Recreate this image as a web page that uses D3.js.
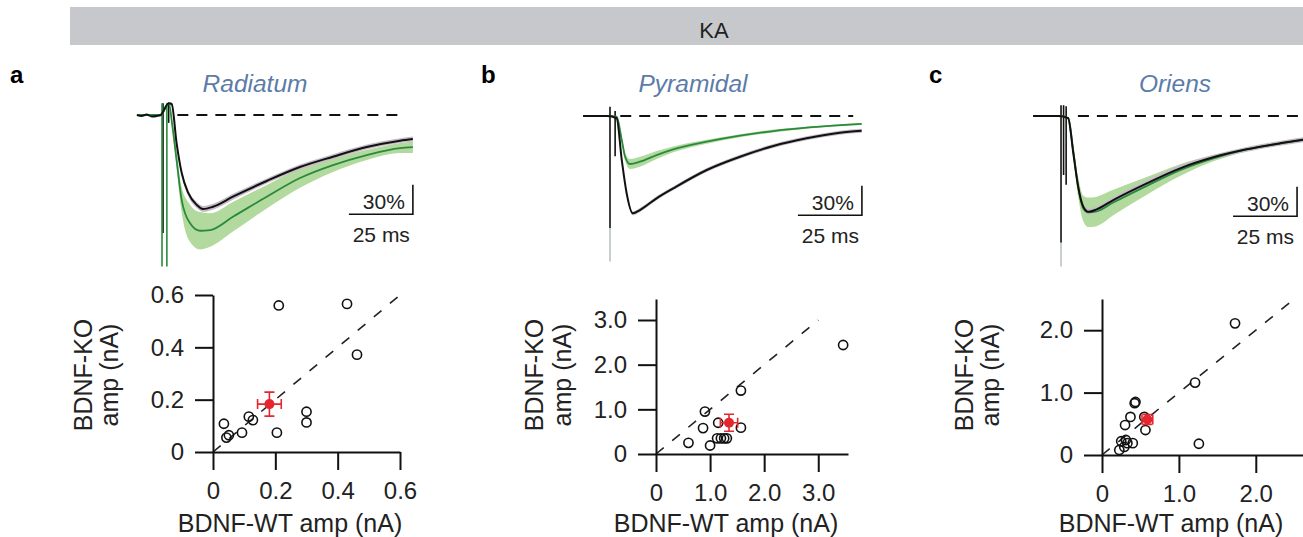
<!DOCTYPE html>
<html>
<head>
<meta charset="utf-8">
<script src="https://cdn.jsdelivr.net/npm/d3@7"></script>
<style>
    body { margin: 0; background: #fff; }
    svg { display: block; font-family: "Liberation Sans", Arial, sans-serif; }
</style>
</head>
<body>
<svg id="chart" width="1303" height="537"></svg>
<script>
/*global d3*/

// ---- data ----

var headerLabel = 'KA',
    panelLetters = ['a', 'b', 'c'],
    regionNames = ['Radiatum', 'Pyramidal', 'Oriens'],

    // averaged, normalized responses: [time (ms), mean (%), sem (%)]
    radiatumWT = [[-9.8, 0, 0], [-8, -1, 0], [-6, 0.5, 0], [-4, -1.5, 0], [-2, -1, 0], [-0.5, 0, 0],
        [2.6, 12, 1], [3.8, 11, 2], [5.7, -28.5, 3], [7.7, -59, 3], [10.2, -79, 3], [13.6, -91.6, 3],
        [16, -95.6, 3], [19.9, -93.3, 3], [27.7, -83.1, 3], [40.9, -67.1, 2.5], [53.9, -52.9, 2.5],
        [66.8, -42.4, 2.5], [80, -32.6, 2.5], [93, -26.1, 2.5], [98, -24.4, 2.5]],
    radiatumKO = [[-9.8, 0, 0], [-0.5, 0, 0], [2.7, 12, 0], [4, -10, 4], [5.7, -45.8, 8],
        [7.7, -86.5, 13], [10.9, -109.9, 19], [14.8, -117.7, 19], [18.8, -117, 17], [27.7, -103.5, 15],
        [40.9, -83.1, 12], [53.9, -64.1, 10], [66.8, -50.9, 7], [80, -40.7, 5], [93, -33.6, 5],
        [98, -32.6, 6]],
    pyramidalWT = [[-10.5, 0, 0], [-1, 0, 0], [2.6, -2.3, 1], [4.6, -44.8, 2], [6.5, -78.6, 2],
        [8.9, -99, 2], [11.7, -95.6, 2], [18.2, -83.7, 2], [24.7, -73.6, 2], [37.8, -54.9, 2],
        [50.8, -41.4, 2], [63.8, -30.5, 2], [76.8, -22.7, 2], [89.8, -17, 2], [98.3, -15, 2]],
    pyramidalKO = [[-10.5, 0, 0], [-1, 0, 0], [2.6, -0.7, 1], [4.6, -24.4, 3], [5.9, -41.4, 4],
        [7.8, -48.8, 5], [11.7, -46.5, 5], [18.2, -39.7, 4], [24.7, -33.9, 3], [37.8, -26.1, 2],
        [50.8, -20, 1.5], [63.8, -15.3, 1.5], [76.8, -11.9, 1], [98.3, -8.1, 1]],
    oriensWT = [[-10.5, 0, 0], [-0.5, 0, 0], [3.2, -2.3, 1], [5.2, -37.9, 2], [7.1, -71.9, 3],
        [9.1, -92.3, 3], [11.1, -97.4, 3], [14.3, -95, 3], [20.8, -85.5, 3], [33.9, -68.5, 3],
        [46.9, -53.2, 3], [59.9, -42, 2.5], [72.9, -33.9, 2.5], [85.9, -27.8, 2.5], [98, -23, 2.5]],
    oriensKO = [[-10.5, 0, 0], [-0.5, 0, 0], [3.2, -2, 2], [5.2, -36, 6], [7.1, -72, 10],
        [9.1, -94, 13], [11.1, -98, 15], [14.3, -97, 15], [20.8, -88, 13], [33.9, -71, 9],
        [46.9, -55, 6], [59.9, -43, 3], [72.9, -34, 2], [85.9, -28, 1.5], [98, -23, 1]],

    // stimulus artifacts: [time (ms), top (%), bottom (%), kind]
    radiatumArtifacts = [[0.4, 12, -120, 'wt'], [2.6, 12, -8, 'wt'], [0, 12, -154, 'ko'], [1.9, 12, -154, 'ko']],
    pyramidalArtifacts = [[0, 9.5, -114, 'wt'], [0, -114, -148, 'faint'], [2.0, 5, -41, 'wt']],
    oriensArtifacts = [[0.4, 11, -129, 'wt'], [0.4, -129, -153, 'faint'], [1.4, 11, -60, 'wt'], [2.4, 10, -70, 'wt']],

    // peak amplitudes per cell: [BDNF-WT (nA), BDNF-KO (nA)]
    radiatumCells = [[0.035, 0.108], [0.043, 0.055], [0.051, 0.064], [0.093, 0.074], [0.115, 0.135],
        [0.128, 0.122], [0.205, 0.074], [0.30, 0.154], [0.30, 0.113], [0.211, 0.56], [0.43, 0.566],
        [0.462, 0.372]],
    pyramidalCells = [[0.6, 0.25], [0.87, 0.58], [0.905, 0.95], [1.0, 0.19], [1.15, 0.70], [1.13, 0.35],
        [1.2, 0.35], [1.26, 0.35], [1.31, 0.35], [1.57, 0.59], [1.57, 1.42], [3.46, 2.44]],
    oriensCells = [[0.225, 0.08], [0.25, 0.22], [0.29, 0.13], [0.31, 0.24], [0.33, 0.19], [0.40, 0.19],
        [0.30, 0.48], [0.37, 0.61], [0.425, 0.83], [0.435, 0.85], [0.55, 0.61], [0.565, 0.40],
        [1.26, 0.18], [1.21, 1.16], [1.73, 2.11]],

    // mean +/- sem: [WT, KO, WT sem, KO sem]
    radiatumMean = [0.181, 0.183, 0.038, 0.046],
    pyramidalMean = [1.35, 0.70, 0.16, 0.19],
    oriensMean = [0.59, 0.57, 0.07, 0.08],

    wtAxisMax = [0.6, 3.55, 2.64],
    koAxisMax = [0.6, 3.47, 2.5],
    unityMax = [0.6, 3.0, 2.5],
    wtTicks = [[0, 0.2, 0.4, 0.6], [0, 1, 2, 3], [0, 1, 2]],
    koTicks = [[0, 0.2, 0.4, 0.6], [0, 1, 2, 3], [0, 1, 2]],

    scaleBarMs = 25,
    scaleBarPct = 30,
    wtAxisLabel = 'BDNF-WT amp (nA)',
    koAxisLabel = ['BDNF-KO', 'amp (nA)'];

// ---- layout (pixels) ----

var layout = [
    {letterX: 10, titleX: 255, stimX: 162, baseY: 115, dash: [6, 95], bar: [98, -101],
        sx: [213, 400], sy: [452, 295], koLabelX: [92, 118], wtLabelX: 290},
    {letterX: 481, titleX: 693, stimX: 610, baseY: 116, dash: [4, 95], bar: [98.4, -101],
        sx: [656, 848], sy: [454, 299], koLabelX: [543, 571], wtLabelX: 726},
    {letterX: 929, titleX: 1175, stimX: 1060, baseY: 116, dash: [7, 100], bar: [92.6, -102],
        sx: [1102, 1305], sy: [455, 299], koLabelX: [973, 999], wtLabelX: 1171}
];

var colors = {
    wt: '#111111',
    wtBand: '#c6bcc8',
    ko: '#2a8a3c',
    koBand: '#b2da9e',
    faint: '#b9c4c0',
    title: '#5b7ca8',
    mean: '#e4262e',
    header: '#c7c8cb'
};

(function () {
    "use strict";

    var svg = d3.select('#chart'),
        traces = [[radiatumWT, radiatumKO], [pyramidalWT, pyramidalKO], [oriensWT, oriensKO]],
        artifacts = [radiatumArtifacts, pyramidalArtifacts, oriensArtifacts],
        cells = [radiatumCells, pyramidalCells, oriensCells],
        means = [radiatumMean, pyramidalMean, oriensMean],
        fmt = function (d) { return d === 0 ? '0' : d3.format('.1f')(d); };

    // header bar
    svg.append('rect')
        .attr('x', 70).attr('y', 7)
        .attr('width', 1240).attr('height', 38)
        .attr('fill', colors.header);
    svg.append('text')
        .attr('x', 714).attr('y', 38)
        .attr('text-anchor', 'middle')
        .attr('font-size', 22)
        .attr('fill', '#222')
        .text(headerLabel);

    layout.forEach(function (lay, i) {
        var g = svg.append('g').attr('class', 'panel-' + panelLetters[i]),

            // trace scales: 25 ms = 64 px, 30 % = 29.5 px
            tx = d3.scaleLinear().domain([0, scaleBarMs]).range([lay.stimX, lay.stimX + 64]),
            ty = d3.scaleLinear().domain([0, scaleBarPct]).range([lay.baseY, lay.baseY - 29.5]),

            line = d3.line()
                .x(function (d) { return tx(d[0]); })
                .y(function (d) { return ty(d[1]); })
                .curve(d3.curveMonotoneX),
            band = d3.area()
                .x(function (d) { return tx(d[0]); })
                .y0(function (d) { return ty(d[1] - d[2]); })
                .y1(function (d) { return ty(d[1] + d[2]); })
                .curve(d3.curveMonotoneX),

            wt = traces[i][0],
            ko = traces[i][1],
            bar = lay.bar,

            sx = d3.scaleLinear().domain([0, wtAxisMax[i]]).range(lay.sx),
            sy = d3.scaleLinear().domain([0, koAxisMax[i]]).range(lay.sy),
            m = means[i],
            xAxisG,
            yAxisG;

        // letter + title
        g.append('text')
            .attr('x', lay.letterX).attr('y', 83)
            .attr('font-size', 24).attr('font-weight', 'bold')
            .text(panelLetters[i]);
        g.append('text')
            .attr('x', lay.titleX).attr('y', 92)
            .attr('text-anchor', 'middle')
            .attr('font-size', 24.5).attr('font-style', 'italic')
            .attr('fill', colors.title)
            .text(regionNames[i]);

        // dashed zero line
        g.append('line')
            .attr('x1', tx(lay.dash[0])).attr('x2', tx(lay.dash[1]))
            .attr('y1', ty(0)).attr('y2', ty(0))
            .attr('stroke', '#111').attr('stroke-width', 2)
            .attr('stroke-dasharray', '11,8');

        // sem bands, then mean traces
        g.append('path').datum(ko.slice(2)).attr('d', band).attr('fill', colors.koBand);
        g.append('path').datum(wt.filter(function (d) { return d[0] > 0; }))
            .attr('d', band).attr('fill', colors.wtBand);

        g.selectAll('line.artifact')
            .data(artifacts[i])
            .enter().append('line')
            .attr('class', 'artifact')
            .attr('x1', function (d) { return tx(d[0]); })
            .attr('x2', function (d) { return tx(d[0]); })
            .attr('y1', function (d) { return ty(d[1]); })
            .attr('y2', function (d) { return ty(d[2]); })
            .attr('stroke', function (d) { return colors[d[3]]; })
            .attr('stroke-width', 1.6);

        g.append('path').datum(ko).attr('d', line)
            .attr('fill', 'none').attr('stroke', colors.ko).attr('stroke-width', 1.8);
        g.append('path').datum(wt).attr('d', line)
            .attr('fill', 'none').attr('stroke', colors.wt).attr('stroke-width', 2);

        // scale bar
        g.append('path')
            .attr('d', 'M' + tx(bar[0] - scaleBarMs) + ',' + ty(bar[1]) +
                  'H' + tx(bar[0]) + 'V' + ty(bar[1] + scaleBarPct))
            .attr('fill', 'none').attr('stroke', '#111').attr('stroke-width', 1.6);
        g.append('text')
            .attr('x', tx(bar[0]) - 8).attr('y', ty(bar[1]) - 5)
            .attr('text-anchor', 'end').attr('font-size', 21).attr('fill', '#222')
            .text(scaleBarPct + '%');
        g.append('text')
            .attr('x', tx(bar[0]) - 3).attr('y', ty(bar[1]) + 28)
            .attr('text-anchor', 'end').attr('font-size', 21).attr('fill', '#222')
            .text(scaleBarMs + ' ms');

        // ---- scatter ----
        g.append('line')
            .attr('x1', sx(0)).attr('y1', sy(0))
            .attr('x2', sx(unityMax[i])).attr('y2', sy(unityMax[i]))
            .attr('stroke', '#222').attr('stroke-width', 1.6)
            .attr('stroke-dasharray', '10,11');

        xAxisG = g.append('g')
            .attr('transform', 'translate(0,' + sy(0) + ')')
            .call(d3.axisBottom(sx).tickValues(wtTicks[i]).tickFormat(fmt)
                  .tickSize(18).tickSizeOuter(0).tickPadding(12));
        yAxisG = g.append('g')
            .attr('transform', 'translate(' + sx(0) + ',0)')
            .call(d3.axisLeft(sy).tickValues(koTicks[i]).tickFormat(fmt)
                  .tickSize(18).tickSizeOuter(0).tickPadding(11));
        [xAxisG, yAxisG].forEach(function (a) {
            a.attr('font-family', null).attr('font-size', 24);
            a.selectAll('path, line').attr('stroke', '#111').attr('stroke-width', 2);
            a.selectAll('text').attr('fill', '#222');
        });

        g.selectAll('circle.cell')
            .data(cells[i])
            .enter().append('circle')
            .attr('class', 'cell')
            .attr('cx', function (d) { return sx(d[0]); })
            .attr('cy', function (d) { return sy(d[1]); })
            .attr('r', 4.6)
            .attr('fill', 'none')
            .attr('stroke', '#111')
            .attr('stroke-width', 1.6);

        // mean +/- sem
        g.append('path')
            .attr('d', 'M' + sx(m[0] - m[2]) + ',' + sy(m[1]) + 'H' + sx(m[0] + m[2]) +
                  'M' + sx(m[0]) + ',' + sy(m[1] - m[3]) + 'V' + sy(m[1] + m[3]) +
                  'M' + sx(m[0] - m[2]) + ',' + (sy(m[1]) - 5) + 'v10' +
                  'M' + sx(m[0] + m[2]) + ',' + (sy(m[1]) - 5) + 'v10' +
                  'M' + (sx(m[0]) - 5) + ',' + sy(m[1] - m[3]) + 'h10' +
                  'M' + (sx(m[0]) - 5) + ',' + sy(m[1] + m[3]) + 'h10')
            .attr('fill', 'none').attr('stroke', colors.mean).attr('stroke-width', 1.6);
        g.append('circle')
            .attr('cx', sx(m[0])).attr('cy', sy(m[1]))
            .attr('r', 5).attr('fill', colors.mean);

        // axis labels
        g.append('text')
            .attr('x', lay.wtLabelX).attr('y', 532)
            .attr('text-anchor', 'middle').attr('font-size', 25).attr('fill', '#222')
            .text(wtAxisLabel);
        koAxisLabel.forEach(function (txt, k) {
            g.append('text')
                .attr('transform', 'translate(' + lay.koLabelX[k] + ',375) rotate(-90)')
                .attr('text-anchor', 'middle').attr('font-size', 25).attr('fill', '#222')
                .text(txt);
        });
    });
}());
</script>
</body>
</html>
